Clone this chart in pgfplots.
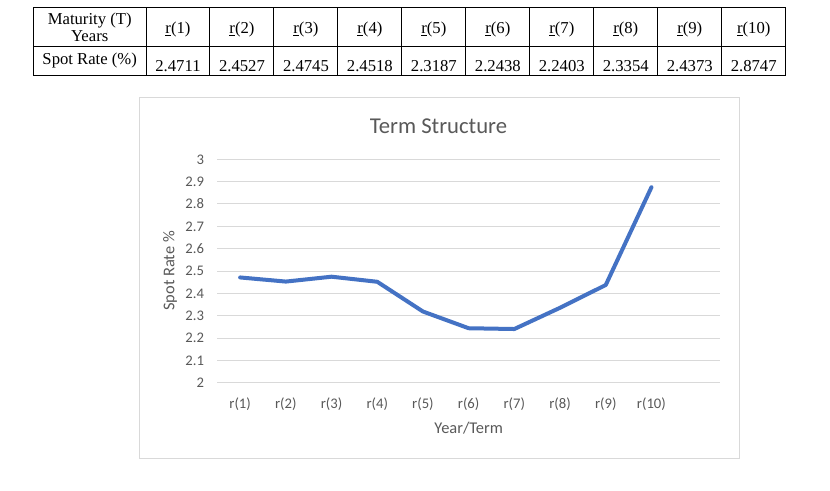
\documentclass[border=0pt]{standalone}
\usepackage{pgfplots}
\pgfplotsset{compat=1.18}
\usepackage{fontspec}
\setmainfont{Liberation Serif}
\newfontfamily\calibri{Carlito}
\definecolor{linebl}{HTML}{4472C4}
\definecolor{txtgray}{HTML}{595959}
\definecolor{gridgray}{HTML}{D9D9D9}
\begin{document}
\begin{tikzpicture}[x=0.75pt,y=0.75pt]
\path[use as bounding box, fill=white] (0,0) rectangle (830,490);
% ---- table ----
\draw[line width=0.75pt] (33.3,482.7) rectangle (785.7,414.7);
\draw[line width=0.75pt] (33.3,443.3) -- (785.7,443.3);
\foreach \k in {0,...,9} {
  \draw[line width=0.75pt] ({146+63.97*\k},482.7) -- ({146+63.97*\k},414.7);
}
\begingroup
\fontsize{12.5}{14}\selectfont
\node[anchor=base, inner sep=0pt] at (89.7,465) {Maturity (T)};
\node[anchor=base, inner sep=0pt] at (89.7,448.5) {Years};
\node[anchor=base, inner sep=0pt] at (89.7,425) {Spot Rate (\%)};
\foreach \k/\v in {1/2.4711,2/2.4527,3/2.4745,4/2.4518,5/2.3187,6/2.2438,7/2.2403,8/2.3354,9/2.4373,10/2.8747} {
  \node[anchor=base, inner sep=0pt] at ({146+63.97*(\k-0.5)},456.7) {\underline{r}(\k)};
  \node[anchor=base, inner sep=0pt] at ({146+63.97*(\k-0.5)},418.7) {\rmfamily\v};
}
\endgroup
% ---- chart frame ----
\draw[gridgray, line width=0.75pt] (139.3,392) rectangle (739.3,31.7);
\begin{axis}[
  at={(162.975pt,80.475pt)}, anchor=south west,
  scale only axis, width=377pt, height=167.55pt,
  xmin=0.5, xmax=11.5, ymin=2, ymax=3,
  xtick={1,...,10},
  xticklabels={r(1),r(2),r(3),r(4),r(5),r(6),r(7),r(8),r(9),r(10)},
  ytick={2,2.1,2.2,2.3,2.4,2.5,2.6,2.7,2.8,2.9,3},
  yticklabels={2,2.1,2.2,2.3,2.4,2.5,2.6,2.7,2.8,2.9,3},
  axis line style={draw=none},
  major tick length=0pt,
  ymajorgrids, grid style={gridgray, line width=0.75pt},
  /pgf/number format/assume math mode=true,
  tick label style={font=\calibri\fontsize{11}{13}\selectfont, text=txtgray},
  yticklabel style={anchor=east, inner sep=0pt, xshift=-9.8pt},
  xticklabel style={anchor=center, inner sep=0pt, yshift=-16pt},
  every axis title shift=0pt,
  title={Term Structure},
  title style={font=\calibri\fontsize{17}{20}\selectfont, text=txtgray,
    at={(axis description cs:0.440,1.149)}, anchor=center, yshift=0pt},
  xlabel={Year/Term},
  xlabel style={font=\calibri\fontsize{12.3}{14}\selectfont, text=txtgray,
    at={(axis description cs:0.5,-0.2028)}, anchor=center},
  ylabel={Spot Rate \%},
  ylabel style={font=\calibri\fontsize{12.3}{14}\selectfont, text=txtgray,
    at={(axis description cs:-0.0941,0.5)}, anchor=center},
  clip=false,
]
\addplot[linebl, line width=3pt, line join=round, line cap=round] coordinates {
  (1,2.4711) (2,2.4527) (3,2.4745) (4,2.4518) (5,2.3187)
  (6,2.2438) (7,2.2403) (8,2.3354) (9,2.4373) (10,2.8747)
};
\end{axis}
\end{tikzpicture}
\end{document}
